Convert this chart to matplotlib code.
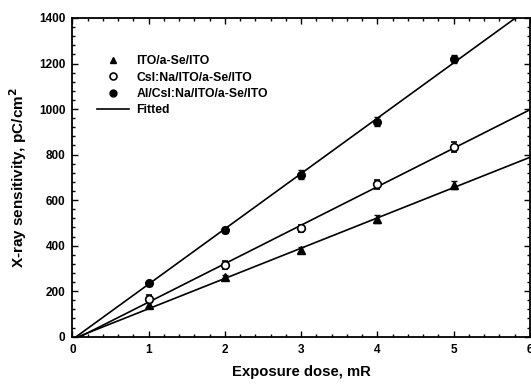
import matplotlib
matplotlib.use("Agg")
import matplotlib.pyplot as plt
from matplotlib.ticker import MultipleLocator
from matplotlib.lines import Line2D
import numpy as np

plt.rcParams['font.family'] = ['Liberation Sans', 'DejaVu Sans']
plt.rcParams['font.weight'] = 'bold'

dose = [1, 2, 3, 4, 5]
ito = [139, 261, 381, 516, 668]
ito_err = [12, 12, 14, 18, 18]
csi = [167, 315, 476, 670, 832]
csi_err = [14, 16, 16, 20, 22]
alcsi = [234, 470, 712, 945, 1220]
alcsi_err = [12, 14, 20, 20, 16]

fit_ito = (133.0, -10.0)
fit_csi = (169.0, -17.0)
fit_alcsi = (243.0, -12.0)

labels = ["ITO/a-Se/ITO", "CsI:Na/ITO/a-Se/ITO", "Al/CsI:Na/ITO/a-Se/ITO", "Fitted"]

fig = plt.figure(figsize=(5.31, 3.87), dpi=100)
ax = fig.add_axes([0.1365, 0.13, 0.8615, 0.8235])

xf = np.linspace(0, 6, 200)
for (m, b) in (fit_ito, fit_csi, fit_alcsi):
    yf = m * xf + b
    ax.plot(xf, yf, color='black', lw=1.2, zorder=2)

ax.errorbar(dose, ito, yerr=ito_err, fmt='^', color='black', mfc='black',
            ms=5.5, capsize=2, elinewidth=1, zorder=3)
ax.errorbar(dose, csi, yerr=csi_err, fmt='o', color='black', mfc='white',
            ms=5.5, mew=1.2, capsize=2, elinewidth=1, zorder=3)
ax.errorbar(dose, alcsi, yerr=alcsi_err, fmt='o', color='black', mfc='black',
            ms=5.5, capsize=2, elinewidth=1, zorder=3)

handles = [
    Line2D([], [], marker='^', ls='none', color='black', ms=5),
    Line2D([], [], marker='o', ls='none', color='black', mfc='white', ms=5, mew=1.2),
    Line2D([], [], marker='o', ls='none', color='black', ms=5),
    Line2D([], [], color='black', lw=1.2),
]
ax.legend(handles, labels, loc='upper left', bbox_to_anchor=(0.03, 0.918),
          frameon=False, handlelength=2.6, handletextpad=0.6,
          labelspacing=0.36, prop={'weight': 'bold', 'size': 8.8})

ax.set_xlim(0, 6)
ax.set_ylim(0, 1400)
ax.xaxis.set_major_locator(MultipleLocator(1))
ax.xaxis.set_minor_locator(MultipleLocator(0.2))
ax.yaxis.set_major_locator(MultipleLocator(200))
ax.yaxis.set_minor_locator(MultipleLocator(40))
ax.tick_params(which='both', direction='in', top=True, right=True, labelsize=8.5, width=1)
ax.tick_params(which='major', length=4, pad=5)
ax.tick_params(which='minor', length=2)
for s in ax.spines.values():
    s.set_linewidth(1.3)
for lab in ax.get_xticklabels() + ax.get_yticklabels():
    lab.set_fontweight('bold')

ax.set_xlabel("Exposure dose, mR", fontsize=10.7, fontweight='bold', labelpad=7)
ax.set_ylabel("X-ray sensitivity, pC/cm$^2$", fontsize=11, fontweight='bold', labelpad=7)

fig.savefig("out.png", dpi=100)
